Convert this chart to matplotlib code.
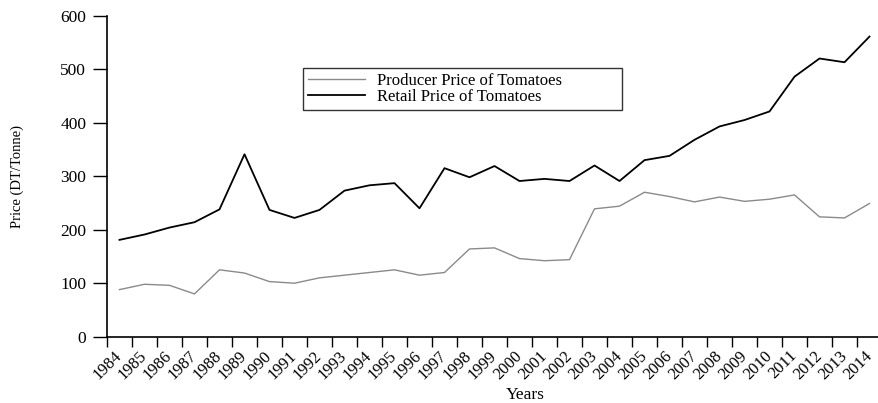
import matplotlib
matplotlib.use("Agg")
import matplotlib.pyplot as plt
import numpy as np

years = list(range(1984, 2015))
producer = [88, 98, 96, 80, 125, 119, 103, 100, 110, 115, 120, 125, 115, 120, 164, 166,
            146, 142, 144, 239, 244, 270, 262, 252, 261, 253, 257, 265, 224, 222, 249]
retail = [181, 191, 204, 214, 238, 341, 237, 222, 237, 273, 283, 287, 240, 315, 298, 319,
          291, 295, 291, 320, 291, 330, 338, 368, 393, 405, 421, 486, 520, 513, 561]
yticks = [0, 100, 200, 300, 400, 500, 600]

plt.rcParams['font.family'] = ['Liberation Serif', 'DejaVu Serif']
plt.rcParams['font.size'] = 12

W, H = 879, 403
fig = plt.figure(figsize=(W / 100, H / 100), dpi=100)
ax = fig.add_axes([107 / W, (H - 336.7) / H, 775 / W, 321 / H])

x = np.arange(len(years))
ax.plot(x, producer, color='#8a8a8a', lw=1.0, label='Producer Price of Tomatoes')
ax.plot(x, retail, color='black', lw=1.3, label='Retail Price of Tomatoes')

ax.set_xlim(-0.5, len(years) - 0.5)
ax.set_ylim(0, 600)
ax.set_yticks(yticks)
ax.set_yticklabels([str(v) for v in yticks], fontsize=12.5)

ax.set_xticks(np.arange(len(years) + 1) - 0.5)
ax.set_xticklabels([])
ax.set_xticks(x, minor=True)
ax.set_xticklabels([str(y) for y in years], minor=True, rotation=45,
                   ha='right', va='center', rotation_mode='anchor', fontsize=12)
ax.tick_params(axis='x', which='major', direction='out', length=7, width=1)
ax.tick_params(axis='x', which='minor', length=0, pad=12)
ax.tick_params(axis='y', direction='out', length=10, width=1, pad=5)

for s in ['top', 'right']:
    ax.spines[s].set_visible(False)
for s in ['left', 'bottom']:
    ax.spines[s].set_linewidth(1.2)

ax.set_ylabel('Price (DT/Tonne)', fontsize=10.5)
ax.yaxis.set_label_coords((24 - 107) / 775, 0.5)
ax.set_xlabel('Years', fontsize=12.5)
ax.xaxis.label.set_va('baseline')
ax.xaxis.set_label_coords((525 - 107) / 775, -(399 - 336.7) / 321)

bx0 = (303 - 107) / 775
bx1 = (622 - 107) / 775
by1 = (336.7 - 68) / 321
by0 = (336.7 - 109) / 321
leg = ax.legend(loc='upper left', bbox_to_anchor=(bx0, by0, bx1 - bx0, by1 - by0),
                mode='expand', frameon=True, fancybox=False, fontsize=12,
                handlelength=3.4, borderpad=0.3, labelspacing=0.0,
                handletextpad=0.75, borderaxespad=0)
leg.get_frame().set_edgecolor('black')
leg.get_frame().set_linewidth(1.0)

fig.savefig('out.png', dpi=100)
